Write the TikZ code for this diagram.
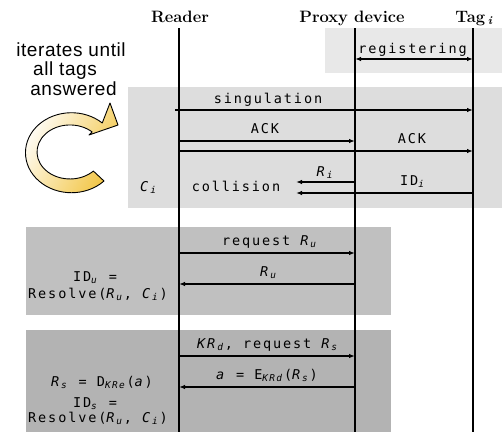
\documentclass[tikz,border=0pt]{standalone}
\usepackage{fontspec}
\usetikzlibrary{arrows.meta}
\newfontfamily\lab[LetterSpace=14]{DejaVu Sans Mono}
\newfontfamily\loopfont[LetterSpace=3]{Liberation Sans}
\newcommand\vv[1]{\textit{#1}}
\newcommand\sbs[1]{\textsubscript{#1}}
\definecolor{boxA}{HTML}{E8E8E8}
\definecolor{boxB}{HTML}{DDDDDD}
\definecolor{boxC}{HTML}{C0C0C0}
\definecolor{boxD}{HTML}{B3B3B3}
\definecolor{goldish}{RGB}{242,196,64}
\tikzset{
  lifeline/.style={line width=1.3pt},
  msg/.style={line width=1.6pt,-{Latex[length=6pt,width=4.5pt]}},
  dmsg/.style={line width=1.6pt,{Latex[length=6pt,width=4.5pt]}-{Latex[length=6pt,width=4.5pt]}},
  lbl/.style={font=\lab\fontsize{13.5}{16}\selectfont,inner sep=0pt,anchor=base},
  hdr/.style={font=\fontsize{16.5}{19}\selectfont\bfseries,inner sep=0pt,anchor=base},
  looptxt/.style={font=\loopfont\fontsize{19}{19}\selectfont,inner sep=0pt,anchor=base},
}
\begin{document}
\begin{tikzpicture}[x=1pt,y=-1pt]
\useasboundingbox (0,0) rectangle (502,432);
% background boxes
\fill[boxA] (325,28) rectangle (502,73);
\fill[boxB] (128,87) rectangle (502,208);
\fill[boxC] (26,227) rectangle (391,315);
\fill[boxD] (26,330) rectangle (391,432);
% headers
\node[hdr] (hR) at (180,22) {Reader};
\node[hdr] (hP) at (352,22) {Proxy device};
\node[hdr] (hT) at (474,22) {Tag\,\textsubscript{\itshape i}};
% lifelines
\coordinate (R) at (179,28); \coordinate (Rb) at (179,432);
\coordinate (P) at (355,28); \coordinate (Pb) at (355,432);
\coordinate (T) at (473,28); \coordinate (Tb) at (473,432);
\draw[lifeline] (R) -- (Rb);
\draw[lifeline] (P) -- (Pb);
\draw[lifeline] (T) -- (Tb);
% registering
\draw[dmsg] (P |- 0,59) -- (T |- 0,59);
\node[lbl] (lreg) at (412.5,53) {registering};
% singulation loop
\coordinate (sgs) at (175,110);
\draw[msg] (sgs) -- (T |- sgs);
\node[lbl] (lsg) at (268,103) {singulation};
\draw[msg] (R |- 0,141) -- (P |- 0,141);
\node[lbl] (lack1) at (265,133) {ACK};
\draw[msg] (R |- 0,151) -- (T |- 0,151);
\node[lbl] (lack2) at (412,143) {ACK};
\coordinate (colR) at (296,182);
\coordinate (colI) at (296,193);
\draw[msg] (P |- colR) -- (colR);
\node[lbl] (lri) at (325.5,176) {\vv{R}\sbs{\vv{i}}};
\draw[msg] (T |- colI) -- (colI);
\node[lbl] (lidi) at (413,185) {ID\sbs{\vv{i}}};
\node[lbl] (lcol) at (236,191) {collision};
\node[lbl] (lci) at (149,191) {\vv{C}\sbs{\vv{i}}};
% resolve box
\draw[msg] (R |- 0,253) -- (P |- 0,253);
\node[lbl] (lrqu) at (270,245) {request \vv{R}\sbs{\vv{u}}};
\draw[msg] (P |- 0,284) -- (R |- 0,284);
\node[lbl] (lru) at (269,276) {\vv{R}\sbs{\vv{u}}};
\node[lbl] (lidu) at (95,281.5) {ID\sbs{\vv{u}} =};
\node[lbl] (lres1) at (98,298) {Resolve(\vv{R}\sbs{\vv{u}}, \vv{C}\sbs{\vv{i}})};
% secure box
\draw[msg] (R |- 0,356) -- (P |- 0,356);
\node[lbl] (lkr) at (268,348.3) {\vv{KR}\sbs{\vv{d}}, request \vv{R}\sbs{\vv{s}}};
\draw[msg] (P |- 0,387) -- (R |- 0,387);
\node[lbl] (la) at (267,379.3) {\vv{a} = E\sbs{\vv{KRd}}(\vv{R}\sbs{\vv{s}})};
\node[lbl] (lrs) at (102,386.7) {\vv{R}\sbs{\vv{s}} = D\sbs{\vv{KRe}}(\vv{a})};
\node[lbl] (lids) at (95,407.3) {ID\sbs{\vv{s}} =};
\node[lbl] (lres2) at (98,422.7) {Resolve(\vv{R}\sbs{\vv{u}}, \vv{C}\sbs{\vv{i}})};
% loop text
\node[looptxt] (it1) at (71,56) {iterates until};
\node[looptxt] (it2) at (65,75.5) {all tags};
\node[looptxt] (it3) at (73.5,95) {answered};
% loop arrow
\path[draw=black,line width=0.9pt,line join=round,left color=white,right color=goldish,shading angle=60]
  (104,181) arc[start angle=45,end angle=312,x radius=46,y radius=40]
  -- (110,103) -- (118,125) -- (89,135) -- (92.1,131.9)
  arc[start angle=312,end angle=45,x radius=33,y radius=27] -- cycle;
\end{tikzpicture}
\end{document}
